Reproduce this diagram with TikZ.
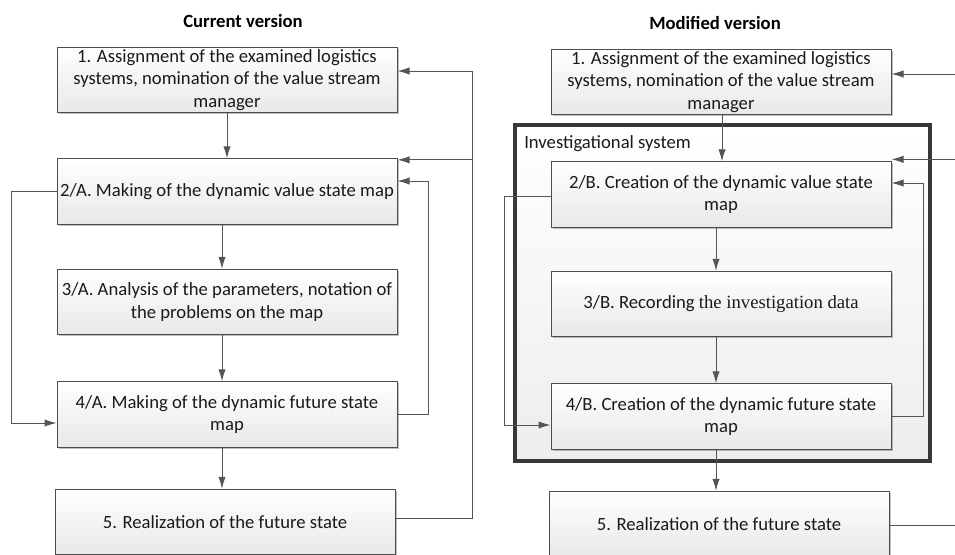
\documentclass[tikz,border=0pt]{standalone}
\usepackage{fontspec}
\setmainfont{Carlito}
\newfontfamily\bodyserif{Liberation Serif}
\usetikzlibrary{arrows.meta,shadows,calc}
\definecolor{edgegray}{HTML}{4D4D4D}
\definecolor{linkgray}{HTML}{555555}
\definecolor{framegray}{HTML}{383838}
\definecolor{inkdark}{HTML}{1A1A1A}
\begin{document}
\begin{tikzpicture}[x=0.75pt,y=-0.75pt,
  stepbox/.style={draw=edgegray, line width=0.75pt, top color=white, bottom color=black!9,
    drop shadow={shadow xshift=1.2pt, shadow yshift=-1.2pt, opacity=0.25, fill=black},
    minimum width=255pt, minimum height=49pt, align=center, text=inkdark,
    font=\fontsize{14}{17}\selectfont, inner sep=0pt},
  sysframe/.style={draw=framegray, line width=2.4pt, top color=white, bottom color=black!7,
    drop shadow={shadow xshift=1.5pt, shadow yshift=-1.5pt, opacity=0.2, fill=black},
    minimum width=311.25pt, minimum height=252pt, inner sep=0pt},
  link/.style={draw=linkgray, line width=0.75pt},
  arr/.style={link, -{Latex[length=9pt,width=5.5pt]}},
  heading/.style={font=\bfseries\fontsize{14}{17}\selectfont, text=black},
  framelabel/.style={font=\fontsize{14}{17}\selectfont, text=inkdark, anchor=west, inner sep=0pt},
]
\useasboundingbox (0,0) rectangle (955,554);
\clip (0,0) rectangle (955,554);

% headings
\node[heading] (titleL) at (243,21) {Current version};
\node[heading] (titleR) at (715,23) {Modified version};

% investigational system container
\node[sysframe] (invsys) at (722.5,293) {};
\node[framelabel] (invlabel) at (524,144) {Investigational system};

% current version steps
\node[stepbox] (L1) at (227,80) {1. Assignment of the examined logistics\\systems, nomination of the value stream\\manager};
\node[stepbox] (L2) at (227,191.5) {2/A. Making of the dynamic value state map};
\node[stepbox] (L3) at (227,302) {3/A. Analysis of the parameters, notation of\\the problems on the map};
\node[stepbox] (L4) at (227,414.5) {4/A. Making of the dynamic future state\\map};
\node[stepbox] (L5) at (225,522) {5. Realization of the future state};

% modified version steps
\node[stepbox] (R1) at (721,82) {1. Assignment of the examined logistics\\systems, nomination of the value stream\\manager};
\node[stepbox] (R2) at (721,194.5) {2/B. Creation of the dynamic value state\\map};
\node[stepbox] (R3) at (721,304) {3/B. Recording {\bodyserif the investigation data}};
\node[stepbox] (R4) at (721,416.5) {4/B. Creation of the dynamic future state\\map};
\node[stepbox] (R5) at (719,524) {5. Realization of the future state};

% rails of the feedback loops
\coordinate (railL) at (472,0);
\coordinate (loopLin) at (428,0);
\coordinate (loopLout) at (11,0);
\coordinate (railR) at (962,0);
\coordinate (loopRin) at (923,0);
\coordinate (loopRout) at (504,0);

% current version: main flow
\draw[arr] (L1) -- (L2);
\draw[arr] ($(L2.south)+(-5,0)$) -- ($(L3.north)+(-5,0)$);
\draw[arr] ($(L3.south)+(-5,0)$) -- ($(L4.north)+(-5,0)$);
\draw[arr] ($(L4.south)+(-5,0)$) -- ($(L5.north)+(-3,0)$);

% current version: feedback
\coordinate (a5) at ($(L5.east)+(0,-4)$);
\coordinate (a1) at ($(L1.east)+(0,-9)$);
\coordinate (a2) at ($(L2.north east)+(0,1.5)$);
\draw[arr] (a5) -- (railL |- a5) |- (a1);
\draw[arr] (railL |- a2) -- (a2);
\draw[arr] (L4.east) -- (loopLin |- L4.east) |- ($(L2.east)+(0,-10.5)$);
\draw[arr] (L2.west) -- (loopLout |- L2.west) |- ($(L4.west)+(0,8.5)$);

% modified version: main flow
\draw[arr] ($(R1.south)+(1,0)$) -- ($(R2.north)+(1,0)$);
\draw[arr] ($(R2.south)+(-5,0)$) -- ($(R3.north)+(-5,0)$);
\draw[arr] ($(R3.south)+(-5,0)$) -- ($(R4.north)+(-5,0)$);
\draw[arr] ($(R4.south)+(-5,0)$) -- ($(R5.north)+(-3,0)$);

% modified version: feedback
\coordinate (c1) at ($(R1.east)+(0,-8)$);
\coordinate (c2) at ($(R2.north east)+(0,-2)$);
\coordinate (c5) at ($(R5.east)+(0,1)$);
\coordinate (e2) at ($(R2.west)+(1,1.5)$);
\draw[arr] (railR |- c1) -- (c1);
\draw[arr] (railR |- c2) -- (c2);
\draw[link] (c5) -- (railR |- c5);
\draw[arr] (R4.east) -- (loopRin |- R4.east) |- ($(R2.east)+(0,-11.5)$);
\draw[arr] (e2) -- (loopRout |- e2) |- ($(R4.west)+(0,8.5)$);
\end{tikzpicture}
\end{document}
